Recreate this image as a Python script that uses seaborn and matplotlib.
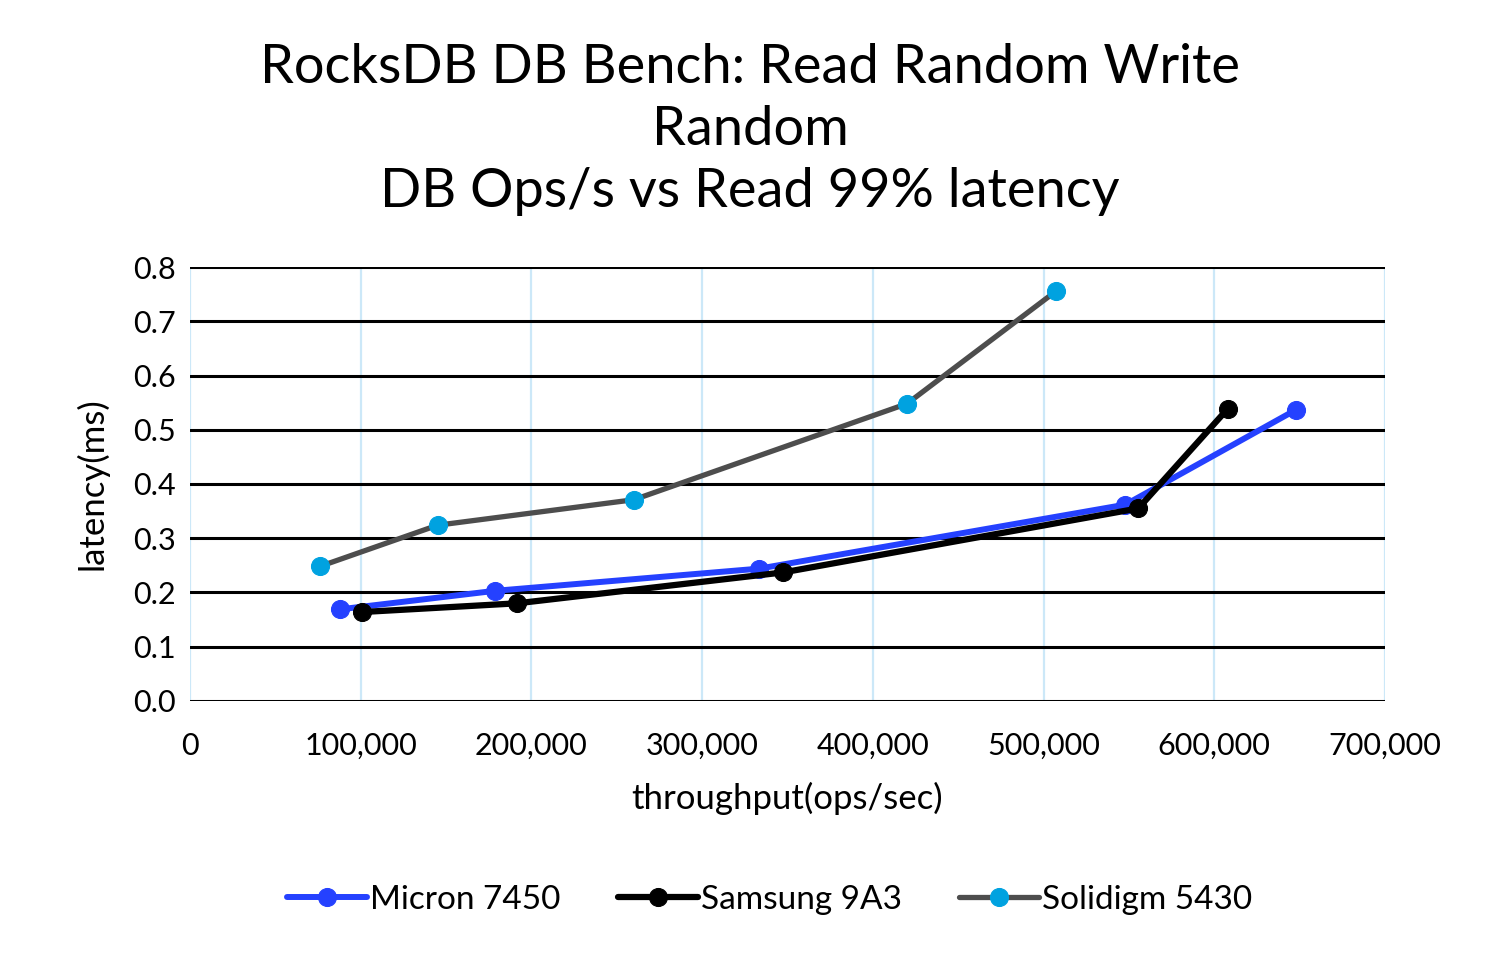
import pandas as pd
import matplotlib
matplotlib.use("Agg")
import matplotlib.pyplot as plt
import seaborn as sns
from matplotlib.ticker import FuncFormatter, MultipleLocator

# throughput (ops/sec) and read 99% latency (ms)
micron_ops = [88000, 178500, 333500, 548000, 648000]
micron_lat = [0.169, 0.203, 0.244, 0.362, 0.537]

samsung_ops = [101000, 191500, 347500, 555500, 608000]
samsung_lat = [0.164, 0.180, 0.237, 0.355, 0.539]

solidigm_ops = [76000, 145000, 260000, 420000, 507500]
solidigm_lat = [0.248, 0.324, 0.371, 0.548, 0.756]

series_names = ["Micron 7450", "Samsung 9A3", "Solidigm 5430"]

df = pd.concat([
    pd.DataFrame({"ops": micron_ops, "lat": micron_lat, "drive": series_names[0]}),
    pd.DataFrame({"ops": samsung_ops, "lat": samsung_lat, "drive": series_names[1]}),
    pd.DataFrame({"ops": solidigm_ops, "lat": solidigm_lat, "drive": series_names[2]}),
])

sns.set_style("white")
plt.rcParams['font.family'] = ['Lato', 'DejaVu Sans']
plt.rcParams['text.color'] = 'black'
plt.rcParams['axes.labelcolor'] = 'black'

line_colors = {"Micron 7450": "#2541ff", "Samsung 9A3": "#000000", "Solidigm 5430": "#4d4d4d"}
dot_colors = {"Micron 7450": "#2541ff", "Samsung 9A3": "#000000", "Solidigm 5430": "#00a2e0"}
widths = {"Micron 7450": 4.3, "Samsung 9A3": 4.5, "Solidigm 5430": 3.8}

fig = plt.figure(figsize=(15, 9.55), dpi=100)
ax = fig.add_axes([0.1267, 0.266, 0.7966, 0.4544])

for name in series_names:
    sub = df[df["drive"] == name]
    sns.lineplot(data=sub, x="ops", y="lat", ax=ax, sort=False, color=line_colors[name],
                 linewidth=widths[name], marker="o", markersize=13,
                 markerfacecolor=dot_colors[name], markeredgecolor=dot_colors[name],
                 label=name, zorder=3)

ax.set_xlim(0, 700000)
ax.set_ylim(0, 0.8)
ax.xaxis.set_major_locator(MultipleLocator(100000))
ax.yaxis.set_major_locator(MultipleLocator(0.1))
ax.xaxis.set_major_formatter(FuncFormatter(lambda v, p: f"{int(v):,}"))
ax.yaxis.set_major_formatter(FuncFormatter(lambda v, p: f"{v:.1f}"))

for s in ax.spines.values():
    s.set_visible(False)
ax.grid(axis="x", color="#cce8f8", linewidth=1.6, zorder=0)
ax.grid(axis="y", color="#000000", linewidth=2.2, zorder=0)
ax.set_axisbelow(True)
ax.tick_params(axis="both", length=0, labelsize=22, colors="#000000")
ax.tick_params(axis="x", pad=22)
ax.tick_params(axis="y", pad=10)

ax.set_xlabel("throughput(ops/sec)", fontsize=25, labelpad=16)
ax.set_ylabel("latency(ms)", fontsize=25, labelpad=18)

fig.suptitle("RocksDB DB Bench: Read Random Write\nRandom\nDB Ops/s vs Read 99% latency",
             fontsize=39, x=0.5, y=0.955, va="top", linespacing=1.33)

ax.legend(loc="center", bbox_to_anchor=(0.485, -0.458), ncol=3, frameon=False,
          fontsize=24, handlelength=2.4, handletextpad=0.1, columnspacing=1.7)

fig.savefig("out.png", dpi=100)
